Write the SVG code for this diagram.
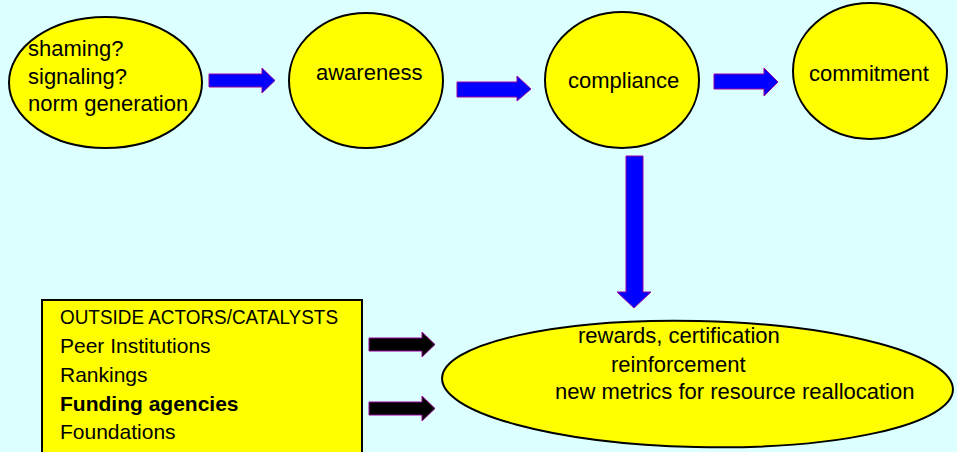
<svg xmlns="http://www.w3.org/2000/svg" width="957" height="452" viewBox="0 0 957 452">
<style>
.node{fill:#FFFF00;stroke:#000;stroke-width:2}
.t{font-family:"Liberation Sans",Arial,sans-serif;font-size:22px;fill:#000}
.bt{font-family:"Liberation Sans",Arial,sans-serif;font-size:21px;fill:#000}
.blue{fill:#0000FF;stroke:#990099;stroke-width:1}
.black{fill:#000;stroke:#990099;stroke-width:1}
</style>
<rect width="957" height="452" fill="#DCFFFF"/>
<g id="n-shaming">
<ellipse class="node" cx="105.5" cy="82.5" rx="96.5" ry="65.5"/>
<text class="t" x="28" y="56">shaming?</text>
<text class="t" x="28" y="83.5">signaling?</text>
<text class="t" x="28" y="111">norm generation</text>
</g>
<g id="n-awareness">
<ellipse class="node" cx="366" cy="80.5" rx="77" ry="67.5"/>
<text class="t" x="316" y="80" font-size="21">awareness</text>
</g>
<g id="n-compliance">
<ellipse class="node" cx="622" cy="80" rx="77" ry="68"/>
<text class="t" x="568" y="88">compliance</text>
</g>
<g id="n-commitment">
<ellipse class="node" cx="870" cy="71" rx="77" ry="68"/>
<text class="t" x="809" y="81">commitment</text>
</g>
<g id="n-actors">
<rect x="42" y="300" width="320" height="165" fill="#FFFF00" stroke="#000" stroke-width="2"/>
<text class="bt" x="60" y="324" font-size="19" textLength="278" lengthAdjust="spacingAndGlyphs">OUTSIDE ACTORS/CATALYSTS</text>
<text class="bt" x="60" y="353">Peer Institutions</text>
<text class="bt" x="60" y="382">Rankings</text>
<text class="bt" x="60" y="411" font-weight="bold" font-size="20">Funding agencies</text>
<text class="bt" x="60" y="439">Foundations</text>
</g>
<g id="n-rewards">
<ellipse class="node" cx="697.5" cy="384" rx="255.5" ry="63" transform="rotate(1.3 697.5 384)"/>
<text class="t" x="578" y="343">rewards, certification</text>
<text class="t" x="611" y="372">reinforcement</text>
<text class="t" x="555" y="399">new metrics for resource reallocation</text>
</g>
<g id="connectors">
<polygon class="blue" points="209,74 262,74 262,68 275,80.5 262,93 262,87 209,87"/>
<polygon class="blue" points="457,82 517,82 517,76 531,89 517,101 517,97 457,97"/>
<polygon class="blue" points="714,74 764,74 764,68 778,82 764,96 764,89 714,89"/>
<polygon class="blue" points="626,156 643,156 643,292 651,292 634,308 617,292 626,292"/>
<polygon class="black" points="369,338 422,338 422,332 435,344.5 422,357 422,351 369,351"/>
<polygon class="black" points="369,402 422,402 422,396 435,408.5 422,421 422,415 369,415"/>
</g>
</svg>
